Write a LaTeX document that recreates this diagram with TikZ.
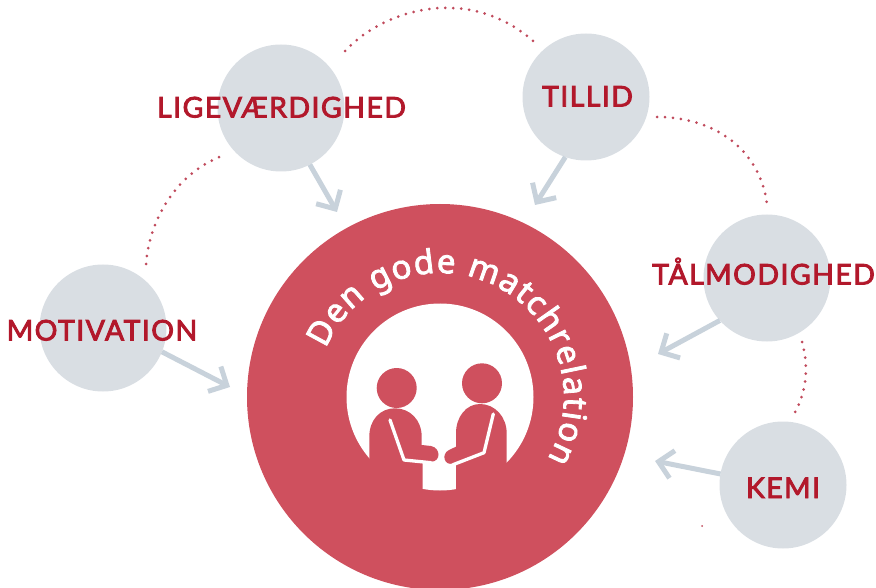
\documentclass[tikz,border=0pt]{standalone}
\usepackage{fontspec}
\setmainfont[FakeBold=2.5]{Noto Sans}
\newfontfamily\wordfont[LetterSpace=5,FakeBold=3]{Lato}
\usetikzlibrary{positioning,arrows.meta,decorations.text}
\definecolor{matchred}{HTML}{CF505E}
\definecolor{wordred}{HTML}{B2182B}
\definecolor{bubblegrey}{HTML}{D9DEE3}
\definecolor{arrowgrey}{HTML}{C8D2DB}
\definecolor{dotred}{HTML}{C04A5C}

\begin{document}
\begin{tikzpicture}
[x=1pt,y=-1pt,
 every node/.style={inner sep=0pt,outer sep=0pt},
 match/.style={circle,fill=matchred,minimum size=386pt},
 hollow/.style={circle,fill=white,minimum size=187pt},
 bubble/.style={circle,fill=bubblegrey,minimum size=127pt},
 word/.style={text=wordred,font=\wordfont\fontsize{28.5}{28.5}\selectfont,text height=21pt,text depth=0pt},
 head/.style={circle,fill=matchred,minimum size=40pt},
 pointer/.style={draw=arrowgrey,line width=5pt,-{Straight Barb[length=14pt,width=28pt,line width=5pt]}},
 dots/.style={draw=dotred,line width=3pt,line cap=round,dash pattern=on 0pt off 8pt},
 arm/.style={draw=white,line width=3.3pt,line cap=round,line join=round}]
\useasboundingbox (0,0) rectangle (876,588);
\node[match]  (rel) at (440,397) {};
\node[hollow] (hole) at (rel) {};
\node[bubble] (lige) [on grid,above left=289pt and 159pt of rel]  {};
\node[bubble] (till) [on grid,above right=300pt and 146pt of rel] {};
\node[bubble] (taal) [on grid,above right=119pt and 327pt of rel] {};
\node[bubble] (kemi) [on grid,below right=88pt and 343pt of rel]  {};
\node[bubble] (moti) [on grid,above left=69pt and 337pt of rel]   {};
\node[word] (ligeW) at (281.5,107) {LIGEVÆRDIGHED};
\node[word] (tillW) at (587.5,96)  {TILLID};
\node[word] (taalW) at (763.5,274) {TÅLMODIGHED};
\node[word] (kemiW) at (783,487.5) {KEMI};
\node[word] (motiW) at (102,330)   {MOTIVATION};
% the two figures
\node[head] (headL) at (396.7,388) {};
\node[head] (headR) at (482,383.3) {};
\fill[matchred] (369.3,456.7) -- (369.3,436.7) .. controls (369.3,420) and (380,408.3) .. (395,408.3)
  .. controls (410,408.3) and (421.7,420) .. (421.7,436.7) -- (421.7,445) -- (431,446)
  .. controls (441,448) and (441,461.7) .. (431,461.7) -- (422.7,461.7) -- (422.7,497) -- (369.3,497) -- cycle;
\fill[matchred] (506.7,461.7) -- (506.7,433.3) .. controls (506.7,417) and (495,404) .. (480,404)
  .. controls (466,404) and (456,417) .. (456,433.3) -- (456,446.7) -- (449,450)
  .. controls (441,454) and (444,466) .. (453,463.5) -- (456,463.3) -- (456,497) -- (506.7,497) -- cycle;
\draw[arm] (390,420) -- (404,460) -- (431,462.7);
\draw[arm] (493.3,414) -- (484,452.7) -- (453,464.7);
\path[decorate,decoration={text along path,text align={fit to path},
  text={|\fontsize{33}{33}\selectfont\color{white}|Den gode matchrelation}}]
  (rel) ++(157:124pt) arc[start angle=157,end angle=-30,radius=124pt];
% arrows towards the big circle
\coordinate (ligeTip) at (337,212);
\coordinate (tillTip) at (535,205);
\coordinate (taalTip) at (658,354);
\coordinate (kemiTip) at (655,461);
\coordinate (motiTip) at (230,387);
\draw[pointer] (lige.-63) -- (ligeTip);
\draw[pointer] (till.-109) -- (tillTip);
\draw[pointer] (taal.-138) -- (taalTip);
\draw[pointer] (kemi.170) -- (kemiTip);
\draw[pointer] (moti.-22) -- (motiTip);
% dotted arcs
\coordinate (a1) at (345,51);
\coordinate (a2) at (533,41);
\coordinate (b1) at (657,117);
\coordinate (b2) at (767,204);
\coordinate (c1) at (802,342);
\coordinate (c2) at (794,414);
\coordinate (d1) at (146,264);
\coordinate (d2) at (226,154.5);
\coordinate (speck) at (702,526);
\path[dots] (a1) .. controls (385,8) and (470,-15) .. (a2);
\path[dots] (b1) .. controls (715,117) and (760,150) .. (b2);
\path[dots] (c1) .. controls (810,370) and (805,395) .. (c2);
\path[dots] (d1) .. controls (150,215) and (180,170) .. (d2);
\fill[dotred] (speck) circle (1pt);
\end{tikzpicture}
\end{document}
